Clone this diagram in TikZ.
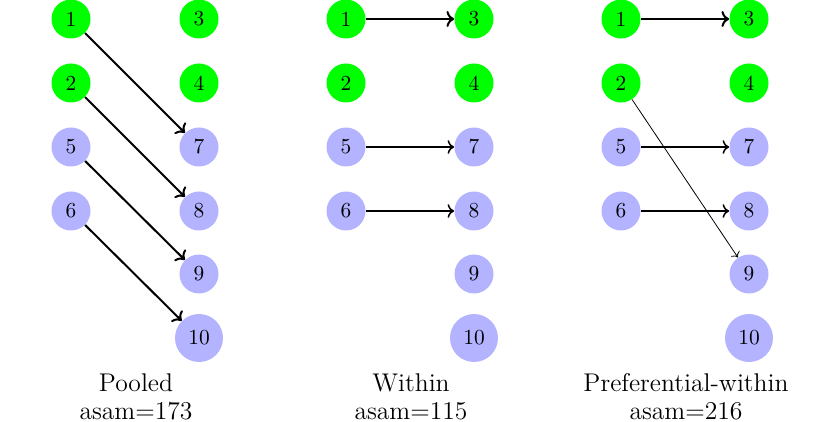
\documentclass[tikz,border=0pt]{standalone}
\usetikzlibrary{arrows.meta}
\definecolor{grn}{RGB}{0,255,0}
\definecolor{blu}{RGB}{179,179,255}
\tikzset{
  nd/.style={circle, inner sep=0pt, minimum size=19.5pt, font=\fontsize{10.7}{13}\selectfont},
  gn/.style={nd, fill=grn},
  bn/.style={nd, fill=blu},
  big/.style={minimum size=24pt},
  arr/.style={->, line width=1pt},
  arrm/.style={->, line width=0.75pt},
  arrs/.style={->, line width=0.4pt},
  lab/.style={align=center, font=\fontsize{12.8}{14}\selectfont, inner sep=0pt, anchor=base}
}
\begin{document}
\begin{tikzpicture}[x=0.5pt,y=-0.5pt]
\useasboundingbox (0,0) rectangle (825,422);
% Pooled
\node[gn] (p1) at (71,19) {1};
\node[gn] (p2) at (71,83) {2};
\node[bn] (p5) at (71,147) {5};
\node[bn] (p6) at (71,211) {6};
\node[gn] (p3) at (199,19) {3};
\node[gn] (p4) at (199,83) {4};
\node[bn] (p7) at (199,147) {7};
\node[bn] (p8) at (199,211) {8};
\node[bn] (p9) at (199,274) {9};
\node[bn,big] (p10) at (199,338) {10};
\draw[arr] (p1) -- (p7);
\draw[arr] (p2) -- (p8);
\draw[arr] (p5) -- (p9);
\draw[arr] (p6) -- (p10);
\node[lab] (pl) at (136,420) {Pooled\\asam=173};
% Within
\node[gn] (w1) at (346,19) {1};
\node[gn] (w2) at (346,83) {2};
\node[bn] (w5) at (346,147) {5};
\node[bn] (w6) at (346,211) {6};
\node[gn] (w3) at (474,19) {3};
\node[gn] (w4) at (474,83) {4};
\node[bn] (w7) at (474,147) {7};
\node[bn] (w8) at (474,211) {8};
\node[bn] (w9) at (474,274) {9};
\node[bn,big] (w10) at (474,338) {10};
\draw[arr] (w1) -- (w3);
\draw[arrm] (w5) -- (w7);
\draw[arrm] (w6) -- (w8);
\node[lab] (wl) at (411,420) {Within\\asam=115};
% Preferential-within
\node[gn] (f1) at (621,19) {1};
\node[gn] (f2) at (621,83) {2};
\node[bn] (f5) at (621,147) {5};
\node[bn] (f6) at (621,211) {6};
\node[gn] (f3) at (749,19) {3};
\node[gn] (f4) at (749,83) {4};
\node[bn] (f7) at (749,147) {7};
\node[bn] (f8) at (749,211) {8};
\node[bn] (f9) at (749,274) {9};
\node[bn,big] (f10) at (749,338) {10};
\draw[arr] (f1) -- (f3);
\draw[arrm] (f5) -- (f7);
\draw[arrm] (f6) -- (f8);
\draw[arrs] (f2) -- (f9);
\node[lab] (fl) at (686,420) {Preferential-within\\asam=216};
\end{tikzpicture}
\end{document}
